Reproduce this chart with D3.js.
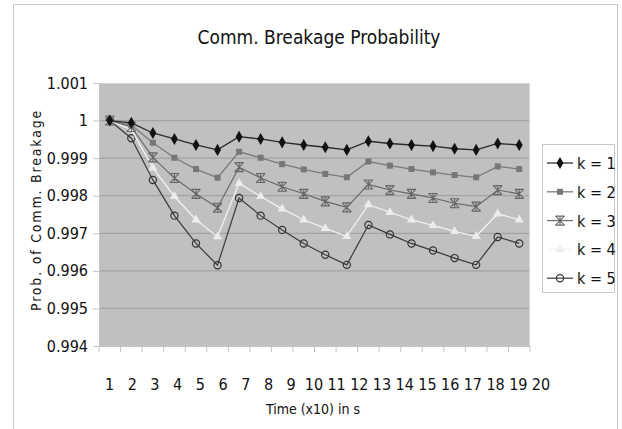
<!DOCTYPE html>
<html>
<head>
<meta charset="utf-8">
<script src="https://cdnjs.cloudflare.com/ajax/libs/d3/7.8.5/d3.min.js"></script>
<style>
body { margin:0; background:#fff; }
text { font-family: 'Liberation Sans Narrow', 'DejaVu Sans Condensed', sans-serif; fill:#111; }
</style>
</head>
<body>
<svg id="chart" width="622" height="429"></svg>
<script>
//data
var times = d3.range(1, 21);
var yTicks = [0.994, 0.995, 0.996, 0.997, 0.998, 0.999, 1, 1.001];
var seriesNames = ['k = 1', 'k = 2', 'k = 3', 'k = 4', 'k = 5'];

var k1 = [1, 0.99994, 0.99967, 0.99951, 0.99935, 0.99922, 0.99957, 0.99951, 0.99942, 0.99935,
          0.99929, 0.99922, 0.99945, 0.99939, 0.99935, 0.99932, 0.99925, 0.99922, 0.99939, 0.99935];
var k2 = [1, 0.99988, 0.99941, 0.99901, 0.99871, 0.99848, 0.99917, 0.99901, 0.99884, 0.9987,
          0.99858, 0.99849, 0.99891, 0.9988, 0.99871, 0.99862, 0.99855, 0.99849, 0.99878, 0.99871];
var k3 = [1, 0.99983, 0.99902, 0.99847, 0.99805, 0.99768, 0.99876, 0.99847, 0.99824, 0.99805,
          0.99785, 0.99769, 0.9983, 0.99815, 0.99805, 0.99794, 0.9978, 0.99771, 0.99815, 0.99805];
var k4 = [1, 0.99976, 0.99874, 0.99798, 0.99736, 0.99691, 0.99833, 0.99798, 0.99765, 0.99736,
          0.99713, 0.99692, 0.99776, 0.99756, 0.99736, 0.99721, 0.99705, 0.99692, 0.99752, 0.99736];
var k5 = [1, 0.99953, 0.99842, 0.99747, 0.99673, 0.99615, 0.99794, 0.99747, 0.99709, 0.99673,
          0.99643, 0.99616, 0.99722, 0.99697, 0.99673, 0.99654, 0.99634, 0.99616, 0.9969, 0.99673];

var allSeries = [k1, k2, k3, k4, k5];

//styles per series
var styles = [
	{line:'#2a2a2a', width:1.3, marker:'diamond', fill:'#111', stroke:'#111', size:42},
	{line:'#7a7a7a', width:1.3, marker:'square', fill:'#777', stroke:'#777', size:36},
	{line:'#666', width:1.1, marker:'aster', fill:'none', stroke:'#666', size:0},
	{line:'#f2f2f2', width:1.3, marker:'triangle', fill:'#ececec', stroke:'#ececec', size:36},
	{line:'#3a3a3a', width:1.2, marker:'circle', fill:'none', stroke:'#333', size:0}
];

var svg = d3.select('#chart');

//outer chart frame
svg.append('rect')
	.attr('x', 13.5).attr('y', 4.5)
	.attr('width', 604).attr('height', 440)
	.attr('fill', 'none').attr('stroke', '#c8c8c8');

var pLeft = 99, pTop = 83, pRight = 530, pBottom = 346;

var x = d3.scaleBand().domain(times).range([pLeft, pRight]);
var y = d3.scaleLinear().domain([0.994, 1.001]).range([pBottom, pTop]);

//plot background
svg.append('rect')
	.attr('x', pLeft).attr('y', pTop)
	.attr('width', pRight - pLeft).attr('height', pBottom - pTop)
	.attr('fill', '#c0c0c0');

//gridlines
svg.selectAll('.grid').data(yTicks.slice(1, -1)).enter()
	.append('line')
	.attr('x1', pLeft).attr('x2', pRight)
	.attr('y1', function(d){ return y(d) }).attr('y2', function(d){ return y(d) })
	.attr('stroke', '#a2a2a2').attr('stroke-width', 1.2);

svg.append('line').attr('x1', pLeft).attr('x2', pRight).attr('y1', pTop + 0.5).attr('y2', pTop + 0.5)
	.attr('stroke', '#d8d8d8');
svg.append('line').attr('x1', pRight - 0.5).attr('x2', pRight - 0.5).attr('y1', pTop).attr('y2', pBottom)
	.attr('stroke', '#d8d8d8');

//y axis
var yAxis = svg.append('g')
	.attr('transform', 'translate(' + pLeft + ',0)')
	.call(d3.axisLeft(y).tickValues(yTicks).tickSize(6).tickPadding(5)
		.tickFormat(function(d){ return d === 1 ? '1' : d3.format('.3f')(d) }));
yAxis.select('.domain').attr('stroke', '#c4c4c4');
yAxis.selectAll('.tick line').attr('stroke', '#c4c4c4');
yAxis.selectAll('.tick text').style('font-size', '16px').attr('fill', '#111')
	.style('font-family', "'Liberation Sans Narrow', 'DejaVu Sans Condensed', sans-serif");

//x axis ticks between categories
var xEdges = times.map(function(d){ return x(d) }).concat([pRight]);
svg.append('line').attr('x1', pLeft).attr('x2', pRight).attr('y1', pBottom + 0.5).attr('y2', pBottom + 0.5)
	.attr('stroke', '#c4c4c4');
svg.selectAll('.xtick').data(xEdges).enter()
	.append('line')
	.attr('x1', function(d){ return d }).attr('x2', function(d){ return d })
	.attr('y1', pBottom).attr('y2', pBottom + 6)
	.attr('stroke', '#c4c4c4');

//x labels (rendered slightly wider than the bands, as in the original)
var xLab = d3.scalePoint().domain(times).range([109.5, 541]);
svg.selectAll('.xlab').data(times).enter()
	.append('text')
	.attr('x', function(d){ return xLab(d) })
	.attr('y', 390)
	.style('text-anchor', 'middle')
	.style('font-size', '16px')
	.text(function(d){ return d });

//titles
svg.append('text')
	.attr('x', 319).attr('y', 44)
	.style('text-anchor', 'middle')
	.style('font-size', '19px')
	.text('Comm. Breakage Probability');

svg.append('text')
	.attr('x', 313).attr('y', 414)
	.style('text-anchor', 'middle')
	.style('font-size', '14px')
	.text('Time (x10) in s');

svg.append('text')
	.attr('transform', 'translate(41,210) rotate(-90)')
	.style('text-anchor', 'middle')
	.style('font-size', '14px')
	.style('letter-spacing', '1.8px')
	.text('Prob. of Comm. Breakage');

//marker drawing
function drawMarker(g, st, cx, cy) {
	if (st.marker === 'diamond') {
		g.append('path').attr('d', d3.symbol(d3.symbolDiamond, st.size)())
			.attr('transform', 'translate(' + cx + ',' + cy + ')')
			.attr('fill', st.fill);
	} else if (st.marker === 'square') {
		g.append('path').attr('d', d3.symbol(d3.symbolSquare, st.size)())
			.attr('transform', 'translate(' + cx + ',' + cy + ')')
			.attr('fill', st.fill);
	} else if (st.marker === 'triangle') {
		g.append('path').attr('d', d3.symbol(d3.symbolTriangle, st.size)())
			.attr('transform', 'translate(' + cx + ',' + cy + ')')
			.attr('fill', st.fill);
	} else if (st.marker === 'circle') {
		g.append('circle').attr('cx', cx).attr('cy', cy).attr('r', 3.6)
			.attr('fill', 'none').attr('stroke', st.stroke).attr('stroke-width', 1.2);
	} else if (st.marker === 'aster') {
		var s = 4.5;
		var p = 'M' + (cx - s) + ',' + (cy - s) + 'L' + (cx + s) + ',' + (cy + s) +
			'M' + (cx - s) + ',' + (cy + s) + 'L' + (cx + s) + ',' + (cy - s) +
			'M' + cx + ',' + (cy - s) + 'L' + cx + ',' + (cy + s) +
			'M' + (cx - s) + ',' + (cy - s) + 'L' + (cx + s) + ',' + (cy - s) +
			'M' + (cx - s) + ',' + (cy + s) + 'L' + (cx + s) + ',' + (cy + s);
		g.append('path').attr('d', p).attr('stroke', st.stroke).attr('stroke-width', 1.1).attr('fill', 'none');
	}
}

var line = d3.line()
	.x(function(d, i){ return x(times[i]) + x.bandwidth() / 2 })
	.y(function(d){ return y(d) });

//draw series (k = 5 first so k = 1 ends on top)
var plot = svg.append('g');
for (var s = allSeries.length - 1; s >= 0; s--) {
	var st = styles[s];
	var g = plot.append('g');
	g.append('path').datum(allSeries[s])
		.attr('d', line)
		.attr('fill', 'none')
		.attr('stroke', st.line)
		.attr('stroke-width', st.width);
	allSeries[s].forEach(function(v, i){
		drawMarker(g, st, x(times[i]) + x.bandwidth() / 2, y(v));
	});
}

//legend
var legend = svg.append('g');
legend.append('rect')
	.attr('x', 542.5).attr('y', 144.5)
	.attr('width', 72).attr('height', 148)
	.attr('fill', '#fff').attr('stroke', '#c8c8c8');

seriesNames.forEach(function(name, i){
	var ly = 163 + i * 28.8;
	var st = styles[i];
	legend.append('line')
		.attr('x1', 547).attr('x2', 573).attr('y1', ly).attr('y2', ly)
		.attr('stroke', st.line).attr('stroke-width', st.width);
	drawMarker(legend, st, 560, ly);
	legend.append('text')
		.attr('x', 577).attr('y', ly + 6)
		.style('font-size', '16px')
		.text(name);
});
</script>
</body>
</html>
